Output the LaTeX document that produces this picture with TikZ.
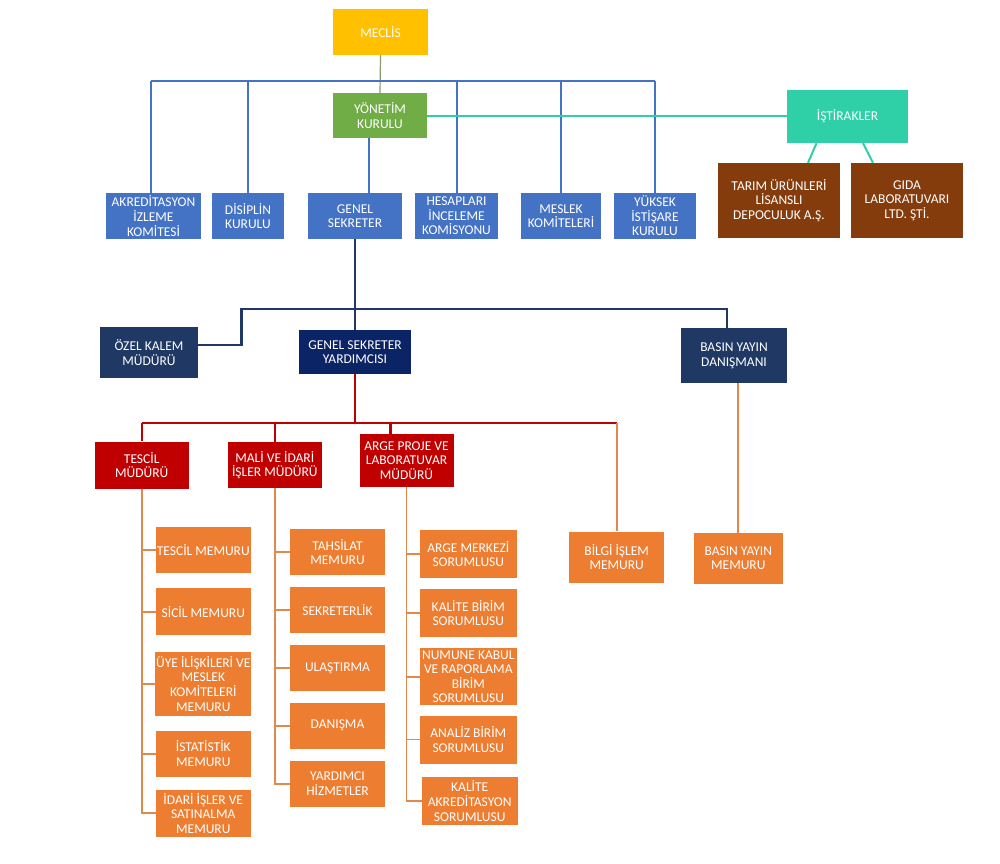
\documentclass[tikz,border=0pt]{standalone}
\usepackage{fontspec}
\setmainfont{Carlito}
\newcommand{\boxfont}{\fontsize{13.5}{14.6}\selectfont}

\definecolor{meclisgold}{HTML}{FFC000}
\definecolor{ykgreen}{HTML}{70AD47}
\definecolor{orgblue}{HTML}{4472C4}
\definecolor{orgteal}{HTML}{2FCFA8}
\definecolor{orgbrown}{HTML}{843C0C}
\definecolor{orgnavy}{HTML}{203864}
\definecolor{darknavy}{HTML}{0B2466}
\definecolor{orgred}{HTML}{C00000}
\definecolor{orgorange}{HTML}{ED7D31}
\definecolor{orangeline}{HTML}{DF8A4C}
\definecolor{meclisline}{HTML}{8A9A6B}

\begin{document}
\begin{tikzpicture}[x=1pt, y=-1pt]
    \tikzset{
        box/.style={rectangle, inner sep=1pt, align=center, text=white, font=\boxfont},
        boxsize/.style 2 args={minimum width=#1, minimum height=#2},
        meclisbox/.style={box, fill=meclisgold},
        ykbox/.style={box, fill=ykgreen},
        bluebox/.style={box, fill=orgblue},
        tealbox/.style={box, fill=orgteal},
        brownbox/.style={box, fill=orgbrown},
        navybox/.style={box, fill=orgnavy},
        redbox/.style={box, fill=orgred},
        orangebox/.style={box, fill=orgorange},
        blueline/.style={draw=orgblue, line width=2pt},
        tealline/.style={draw=orgteal, line width=2pt},
        navyline/.style={draw=orgnavy, line width=2.6pt},
        redline/.style={draw=orgred, line width=2.4pt},
        orline/.style={draw=orangeline, line width=1.8pt},
    }
    \fill[white] (0,0) rectangle (1000,863);
    \useasboundingbox (0,0) rectangle (1000,863);

    % Top level
    \node[meclisbox, boxsize={95}{46}] (meclis) at (380.5,32) {MECLİS};
    \node[ykbox, boxsize={94}{45}] (yk) at (380,115.5) {YÖNETİM\\KURULU};
    \node[tealbox, boxsize={121}{53}] (istirak) at (847.5,116.5) {İŞTİRAKLER};
    \node[brownbox, boxsize={122}{75}] (tarim) at (779,200.5) {TARIM ÜRÜNLERİ\\LİSANSLI\\DEPOCULUK A.Ş.};
    \node[brownbox, boxsize={112}{75}] (gida) at (907,200.5) {GIDA\\LABORATUVARI\\LTD. ŞTİ.};

    % Boards
    \node[bluebox, boxsize={95}{46}] (akred) at (153.5,216) {AKREDİTASYON\\İZLEME\\KOMİTESİ};
    \node[bluebox, boxsize={72}{46}] (disiplin) at (248,216) {DİSİPLİN\\KURULU};
    \node[bluebox, boxsize={94}{46}] (gs) at (355,216) {GENEL\\SEKRETER};
    \node[bluebox, boxsize={83}{46}] (hesap) at (456.5,216) {HESAPLARI\\İNCELEME\\KOMİSYONU};
    \node[bluebox, boxsize={80}{46}] (meslek) at (561,216) {MESLEK\\KOMİTELERİ};
    \node[bluebox, boxsize={82}{46}] (yuksek) at (655,216) {YÜKSEK\\İSTİŞARE\\KURULU};
    \coordinate (bbus) at (380,81);

    % Secretary level
    \node[navybox, boxsize={98}{51}] (ozel) at (149,352.5) {ÖZEL KALEM\\MÜDÜRÜ};
    \node[box, fill=darknavy, boxsize={112}{44}] (gsy) at (355,352) {GENEL SEKRETER\\YARDIMCISI};
    \node[navybox, boxsize={106}{55}] (byd) at (734,355.5) {BASIN YAYIN\\DANIŞMANI};
    \coordinate (nbend) at (241.5,309);

    % Directors
    \node[redbox, boxsize={94}{47}] (tmud) at (141.7,465) {TESCİL\\MÜDÜRÜ};
    \node[redbox, boxsize={94}{46}] (mmud) at (274.8,465) {MALİ VE İDARİ\\İŞLER MÜDÜRÜ};
    \node[redbox, boxsize={94}{53}] (amud) at (406.5,460.5) {ARGE PROJE VE\\LABORATUVAR\\MÜDÜRÜ};
    \coordinate (rbus) at (355,422.7);

    % Staff
    \node[orangebox, boxsize={95}{46}] (tm1) at (203.3,549.7) {TESCİL MEMURU};
    \node[orangebox, boxsize={95}{47}] (tm2) at (203.3,611.7) {SİCİL MEMURU};
    \node[orangebox, boxsize={95}{64}] (tm3) at (203.3,683.7) {ÜYE İLİŞKİLERİ VE\\MESLEK\\KOMİTELERİ\\MEMURU};
    \node[orangebox, boxsize={95}{46}] (tm4) at (203.3,753.7) {İSTATİSTİK\\MEMURU};
    \node[orangebox, boxsize={95}{47}] (tm5) at (203.3,813.3) {İDARİ İŞLER VE\\SATINALMA\\MEMURU};

    \node[orangebox, boxsize={95}{46}] (mm1) at (337.5,552) {TAHSİLAT\\MEMURU};
    \node[orangebox, boxsize={95}{46}] (mm2) at (337.5,610.3) {SEKRETERLİK};
    \node[orangebox, boxsize={95}{46}] (mm3) at (337.5,668) {ULAŞTIRMA};
    \node[orangebox, boxsize={95}{46}] (mm4) at (337.5,725.7) {DANIŞMA};
    \node[orangebox, boxsize={95}{46}] (mm5) at (337.5,783.7) {YARDIMCI\\HİZMETLER};

    \node[orangebox, boxsize={97}{48}] (am1) at (468.3,554) {ARGE MERKEZİ\\SORUMLUSU};
    \node[orangebox, boxsize={97}{48}] (am2) at (468.3,613) {KALİTE BİRİM\\SORUMLUSU};
    \node[orangebox, boxsize={97}{57}] (am3) at (468.3,676.7) {NUMUNE KABUL\\VE RAPORLAMA\\BİRİM\\SORUMLUSU};
    \node[orangebox, boxsize={97}{48}] (am4) at (468.3,739.5) {ANALİZ BİRİM\\SORUMLUSU};
    \node[orangebox, boxsize={96}{48}] (am5) at (469.7,801) {KALİTE\\AKREDİTASYON\\SORUMLUSU};

    \node[orangebox, boxsize={95}{51}] (bilgi) at (616.7,557) {BİLGİ İŞLEM\\MEMURU};
    \node[orangebox, boxsize={89}{51}] (bym) at (738.3,558.3) {BASIN YAYIN\\MEMURU};

    % Lines
    \draw[meclisline, line width=1.2pt] (meclis.south) -- (yk.north);
    \draw[blueline] ([xshift=-3pt]akred.north |- bbus) -- (yuksek.north |- bbus);
    \draw[blueline] ([xshift=-3pt]akred.north) -- ([xshift=-3pt]akred.north |- bbus);
    \foreach \b in {disiplin, hesap, meslek, yuksek}
        \draw[blueline] (\b.north) -- (\b.north |- bbus);
    \draw[blueline] ([xshift=-11pt]yk.south) -- ([xshift=-11pt]yk.south |- gs.north);
    \draw[tealline] (yk.east) -- (yk.east -| istirak.west);
    \draw[tealline] ([xshift=-31pt]istirak.south) -- ([xshift=29pt]tarim.north);
    \draw[tealline] ([xshift=15.5pt]istirak.south) -- ([xshift=-34pt]gida.north);

    \draw[navyline] (gs.south) -- (gsy.north);
    \draw[navyline] ([yshift=7.5pt]ozel.east) -| (nbend) -| ([xshift=-7pt]byd.north);

    \draw[redline] (gsy.south) -- (rbus);
    \draw[redline] (tmud.north |- rbus) -- (bilgi.north |- rbus);
    \draw[redline] (tmud.north) -- (tmud.north |- rbus);
    \draw[redline] (mmud.north) -- (mmud.north |- rbus);
    \draw[redline] ([xshift=-16pt]amud.north) -- ([xshift=-16pt]amud.north |- rbus);
    \draw[orline] (bilgi.north) -- (bilgi.north |- rbus);
    \draw[orline] (bym.north) -- (bym.north |- byd.south);

    \foreach \s in {tm1, tm2, tm3, tm4, tm5}
        \draw[orline] (tmud.south) |- (\s.west);
    \foreach \s in {mm1, mm2, mm3, mm4, mm5}
        \draw[orline] (mmud.south) |- (\s.west);
    \foreach \s in {am1, am2, am3, am4, am5}
        \draw[orline] (amud.south) |- (\s.west);
\end{tikzpicture}
\end{document}
